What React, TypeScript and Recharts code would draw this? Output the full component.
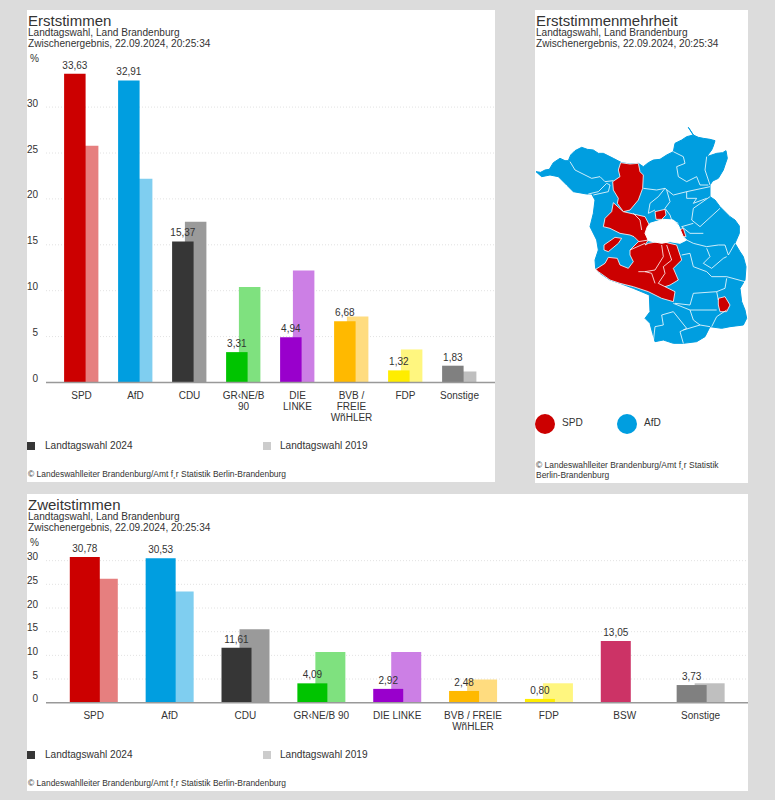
import { BarChart, Bar, XAxis, YAxis, CartesianGrid, Cell, LabelList, ScatterChart, Scatter } from 'recharts';

const FONT = '"Liberation Sans", Arial, sans-serif';
const INK = '#333333';

const erstCategories = ['SPD', 'AfD', 'CDU', 'GR‹NE/B\n90', 'DIE\nLINKE', 'BVB /\nFREIE\nWñHLER', 'FDP', 'Sonstige'];
const erst2024 = [33.63, 32.91, 15.37, 3.31, 4.94, 6.68, 1.32, 1.83];
const erst2019 = [25.8, 22.2, 17.5, 10.4, 12.2, 7.2, 3.6, 1.2];
const erstColors2024 = ['#cc0000', '#009ee0', '#363636', '#00c400', '#9900cc', '#ffb900', '#ffed00', '#808080'];
const erstColors2019 = ['#e67f7f', '#7fcef0', '#9a9a9a', '#7fe17f', '#cc7fe5', '#ffdc7f', '#fff67f', '#bfbfbf'];

const zweitCategories = ['SPD', 'AfD', 'CDU', 'GR‹NE/B 90', 'DIE LINKE', 'BVB / FREIE\nWñHLER', 'FDP', 'BSW', 'Sonstige'];
const zweit2024 = [30.78, 30.53, 11.61, 4.09, 2.92, 2.48, 0.8, 13.05, 3.73];
const zweit2019 = [26.2, 23.5, 15.5, 10.7, 10.7, 4.9, 4.1, null, 4.1];
const zweitColors2024 = ['#cc0000', '#009ee0', '#363636', '#00c400', '#9900cc', '#ffb900', '#ffed00', '#cc3366', '#808080'];
const zweitColors2019 = ['#e67f7f', '#7fcef0', '#9a9a9a', '#7fe17f', '#cc7fe5', '#ffdc7f', '#fff67f', '#e599b2', '#bfbfbf'];

const yTicks = [0, 5, 10, 15, 20, 25, 30];
const gridValues = [5, 10, 15, 20, 25, 30];

// map outlines, traced in picture units
const stateOutline = [[18,155],[32,157],[45,150],[58,148],[70,128],[90,115],[105,122],[115,122],[122,105],[135,92],[155,82],[172,88],[190,90],[205,100],[220,100],[250,115],[275,128],[300,132],[325,130],[340,140],[355,128],[370,120],[390,118],[410,105],[430,95],[435,70],[455,60],[470,50],[490,45],[475,22],[490,45],[505,52],[520,55],[540,58],[555,62],[550,78],[545,90],[530,110],[560,100],[578,98],[588,92],[592,115],[585,135],[580,150],[565,175],[548,183],[540,195],[540,230],[555,240],[570,260],[600,290],[615,300],[628,318],[628,340],[615,370],[630,395],[640,410],[648,440],[645,480],[630,505],[635,545],[645,570],[650,595],[640,615],[600,620],[575,625],[540,620],[525,650],[500,665],[460,670],[430,670],[400,660],[375,665],[368,640],[360,610],[345,595],[360,575],[358,525],[310,505],[270,490],[240,480],[210,460],[197,445],[195,420],[205,390],[200,360],[185,330],[180,320],[190,280],[195,240],[185,222],[170,222],[130,215],[110,195],[85,170],[60,165],[35,170]];
const berlinHole = [[360,310],[400,298],[430,300],[445,315],[460,350],[470,360],[450,370],[420,365],[395,370],[355,362],[345,340],[352,320]];
const spdRegions = [
  [[272,128],[300,132],[325,130],[330,155],[340,165],[338,205],[325,240],[300,270],[280,275],[262,250],[265,235],[250,210],[248,185],[270,170],[265,150]],
  [[250,248],[280,275],[345,290],[358,315],[352,345],[355,362],[330,368],[312,350],[300,345],[270,340],[240,325],[220,320],[225,295],[245,275]],
  [[355,360],[345,375],[355,370],[385,365],[410,368],[440,375],[455,420],[430,445],[445,480],[420,495],[405,500],[435,515],[430,545],[395,535],[355,515],[310,500],[270,490],[240,480],[205,455],[197,448],[225,430],[235,412],[262,415],[270,435],[295,445],[310,425],[300,405],[300,390],[325,365]],
  [[222,375],[255,352],[275,355],[265,370],[235,395],[222,390]],
  [[375,275],[405,268],[408,285],[395,298],[378,298]],
  [[447,330],[460,325],[468,350],[455,350]],
  [[565,535],[585,530],[600,555],[590,575],[570,575],[565,555]],
];
const districtLines = [
  [[120,125],[135,150],[165,165],[185,175],[210,170],[225,185],[250,182]],
  [[175,222],[205,215],[230,190],[240,195],[235,215],[190,225]],
  [[340,205],[380,210],[405,205],[430,225],[470,215],[540,200]],
  [[430,95],[460,110],[465,130],[440,140],[445,170],[470,185],[500,170],[510,195],[535,195]],
  [[530,110],[525,150],[540,195]],
  [[405,205],[385,230],[360,250],[355,280],[375,270]],
  [[410,210],[420,245],[405,265],[420,285],[425,300],[445,310]],
  [[470,215],[470,235],[500,235],[490,250],[530,235]],
  [[540,230],[490,265],[485,300],[510,320],[570,265]],
  [[490,310],[455,320],[480,340],[520,340]],
  [[470,360],[490,370],[530,380],[565,375],[585,375],[595,405],[615,370]],
  [[455,405],[480,400],[490,440],[530,455],[545,470],[590,470],[645,485]],
  [[530,385],[540,410],[520,430],[545,445],[580,415],[590,410]],
  [[590,475],[585,505],[560,515],[490,520],[480,555],[435,550]],
  [[430,550],[480,570],[490,600],[510,615],[540,620]],
  [[560,515],[565,540]],
  [[590,570],[560,590],[545,620]],
  [[395,585],[430,575],[470,625],[450,635],[460,670]],
  [[395,585],[400,615],[375,620],[370,665]],
  [[480,570],[560,570]],
  [[510,615],[460,630]],
  [[395,375],[400,410],[375,450],[345,455],[325,455]],
  [[410,375],[425,420],[400,440],[405,460],[385,490],[405,500]],
  [[345,455],[365,460],[375,490]],
  [[300,390],[345,370]],
  [[310,280],[330,300],[335,330]],
];

const pts = (list: number[][]) => list.map(([x, y]) => ({ x, y }));
const closed = (list: number[][]) => pts([...list, list[0]]);

const Label = ({ x, y, size = 10.1, children, color = INK }: any) => (
  <div style={{ position: 'absolute', left: x, top: y, transform: 'translateY(-50%)', fontSize: size, lineHeight: 1, color, whiteSpace: 'nowrap' }}>
    {children}
  </div>
);

const Panel = ({ x, y, w, h }: any) => (
  <div style={{ position: 'absolute', left: x, top: y, width: w, height: h, background: '#fff' }} />
);

const Square = ({ x, y, color }: any) => (
  <div style={{ position: 'absolute', left: x, top: y, width: 8, height: 8, background: color }} />
);

const Dot = ({ x, y, color }: any) => (
  <div style={{ position: 'absolute', left: x - 10, top: y - 10, width: 20, height: 20, borderRadius: 10, background: color }} />
);

const MultiLineTick = ({ x, y, payload }: any) => (
  <text x={x} y={y} textAnchor="middle" fontSize={10} fill={INK}>
    {String(payload.value).split('\n').map((line: string, i: number) => (
      <tspan key={i} x={x} dy={i === 0 ? 8.5 : 11}>{line}</tspan>
    ))}
  </text>
);

const noShape = () => <g />;

function VoteChart({ left, top, width, height, marginTop, marginBottom, categories, current, previous, colorsNow, colorsPrev, barSize, pad, shift }: any) {
  const rows = categories.map((c: string, i: number) => ({ category: c, current: current[i], previous: previous[i] }));
  return (
    <div style={{ position: 'absolute', left, top }}>
      <BarChart width={width} height={height} data={rows} margin={{ top: marginTop, right: 0, left: 0, bottom: marginBottom }}>
        <CartesianGrid xAxisId="labels" horizontal vertical={false} horizontalValues={gridValues} stroke="#e2e2e2" strokeDasharray="1 2" />
        <XAxis
          xAxisId="labels"
          dataKey="category"
          height={60}
          interval={0}
          padding={{ left: pad[0], right: pad[1] }}
          axisLine={{ stroke: '#999999', strokeWidth: 1.5 }}
          tickLine={false}
          tick={<MultiLineTick />}
        />
        <XAxis xAxisId="now" dataKey="category" hide padding={{ left: pad[0] - shift, right: pad[1] + shift }} />
        <XAxis xAxisId="prev" dataKey="category" hide padding={{ left: pad[0] + shift, right: pad[1] - shift }} />
        <YAxis
          width={19}
          domain={[0, 35]}
          ticks={yTicks}
          axisLine={false}
          tickLine={false}
          tickSize={0}
          tickMargin={8}
          tick={{ fontSize: 10, fill: INK, dy: -4 }}
        />
        <Bar xAxisId="prev" dataKey="previous" barSize={barSize} isAnimationActive={false}>
          {rows.map((_: any, i: number) => <Cell key={`prev-${i}`} fill={colorsPrev[i]} />)}
        </Bar>
        <Bar xAxisId="now" dataKey="current" barSize={barSize} isAnimationActive={false}>
          {rows.map((_: any, i: number) => <Cell key={`now-${i}`} fill={colorsNow[i]} />)}
          <LabelList
            dataKey="current"
            position="top"
            offset={5}
            fontSize={10}
            fill={INK}
            formatter={(v: number) => v.toFixed(2).replace('.', ',')}
          />
        </Bar>
      </BarChart>
    </div>
  );
}

function MajorityMap() {
  return (
    <div style={{ position: 'absolute', left: 535, top: 10 }}>
      <ScatterChart width={213} height={474} margin={{ top: 0, right: 0, bottom: 0, left: 0 }}>
        <XAxis type="number" dataKey="x" hide domain={[15, 654]} />
        <YAxis type="number" dataKey="y" hide reversed domain={[-330, 1092]} />
        <Scatter data={closed(stateOutline)} shape={noShape} isAnimationActive={false} line={{ fill: '#009ee0', stroke: '#009ee0', strokeWidth: 1 }} />
        {spdRegions.map((r, i) => (
          <Scatter key={i} data={closed(r)} shape={noShape} isAnimationActive={false} line={{ fill: '#cc0000', stroke: '#ffffff', strokeWidth: 0.8 }} />
        ))}
        {districtLines.map((l, i) => (
          <Scatter key={i} data={pts(l)} shape={noShape} isAnimationActive={false} line={{ fill: 'none', stroke: '#ffffff', strokeWidth: 0.8 }} />
        ))}
        <Scatter data={closed(berlinHole)} shape={noShape} isAnimationActive={false} line={{ fill: '#ffffff', stroke: '#ffffff', strokeWidth: 1 }} />
      </ScatterChart>
    </div>
  );
}

export default function App() {
  return (
    <div style={{ position: 'absolute', left: 0, top: 0, width: 775, height: 800, background: '#dcdcdc', fontFamily: FONT, overflow: 'hidden' }}>
      <Panel x={27} y={10} w={468} h={472} />
      <Panel x={535} y={10} w={213} h={473} />
      <Panel x={27} y={494} w={721} h={297} />

      <Label x={28} y={19.5} size={15}>Erststimmen</Label>
      <Label x={28} y={32.5}>Landtagswahl, Land Brandenburg</Label>
      <Label x={28} y={44}>Zwischenergebnis, 22.09.2024, 20:25:34</Label>
      <Label x={30} y={59}>%</Label>
      <VoteChart
        left={27} top={10} width={468} height={472} marginTop={51.2} marginBottom={39.5}
        categories={erstCategories} current={erst2024} previous={erst2019}
        colorsNow={erstColors2024} colorsPrev={erstColors2019}
        barSize={21.5} pad={[8.5, 8.5]} shift={6.4}
      />
      <Square x={27} y={442} color="#363636" />
      <Label x={45} y={446}>Landtagswahl 2024</Label>
      <Square x={263} y={442} color="#cccccc" />
      <Label x={280} y={446}>Landtagswahl 2019</Label>
      <Label x={28} y={474} size={8.45}>© Landeswahlleiter Brandenburg/Amt f¸r Statistik Berlin-Brandenburg</Label>

      <Label x={536} y={19.5} size={15}>Erststimmenmehrheit</Label>
      <Label x={536} y={32.5}>Landtagswahl, Land Brandenburg</Label>
      <Label x={536} y={44}>Zwischenergebnis, 22.09.2024, 20:25:34</Label>
      <MajorityMap />
      <Dot x={545} y={423.5} color="#cc0000" />
      <Label x={562} y={423}>SPD</Label>
      <Dot x={627} y={423.5} color="#009ee0" />
      <Label x={644} y={423}>AfD</Label>
      <Label x={536} y={465} size={8.45}>© Landeswahlleiter Brandenburg/Amt f¸r Statistik</Label>
      <Label x={536} y={475} size={8.45}>Berlin-Brandenburg</Label>

      <Label x={28} y={503.5} size={15}>Zweitstimmen</Label>
      <Label x={28} y={516.5}>Landtagswahl, Land Brandenburg</Label>
      <Label x={28} y={528}>Zwischenergebnis, 22.09.2024, 20:25:34</Label>
      <Label x={30} y={543}>%</Label>
      <VoteChart
        left={27} top={494} width={721} height={297} marginTop={43} marginBottom={28.3}
        categories={zweitCategories} current={zweit2024} previous={zweit2019}
        colorsNow={zweitColors2024} colorsPrev={zweitColors2019}
        barSize={30} pad={[9.8, 9.5]} shift={9}
      />
      <Square x={27} y={751} color="#363636" />
      <Label x={45} y={755}>Landtagswahl 2024</Label>
      <Square x={263} y={751} color="#cccccc" />
      <Label x={280} y={755}>Landtagswahl 2019</Label>
      <Label x={28} y={783} size={8.45}>© Landeswahlleiter Brandenburg/Amt f¸r Statistik Berlin-Brandenburg</Label>
    </div>
  );
}
